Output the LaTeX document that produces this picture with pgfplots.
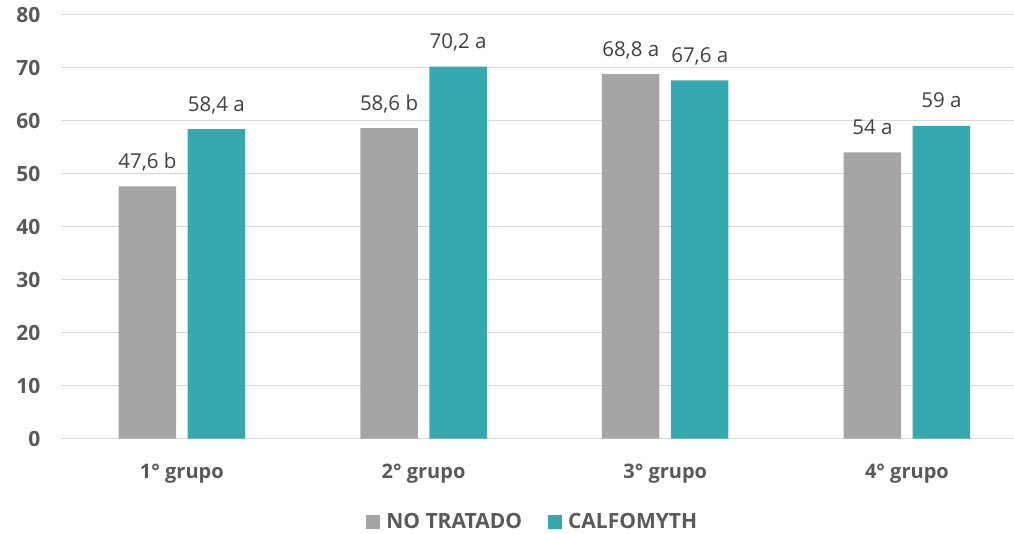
\documentclass[border=0pt]{standalone}
\usepackage{fontspec}
\setmainfont{Open Sans}
\usepackage{pgfplots}
\pgfplotsset{compat=1.18}
\definecolor{barGray}{HTML}{A5A5A5}
\definecolor{barTeal}{HTML}{36A9AE}
\definecolor{gridGray}{HTML}{D9D9D9}
\definecolor{labelGray}{HTML}{595959}
\definecolor{valueGray}{HTML}{404040}
\newcommand{\tickfont}{\fontsize{21}{23}\selectfont\bfseries}
\newcommand{\catfont}{\fontsize{20}{22}\selectfont\bfseries}
\newcommand{\legfont}{\fontsize{21}{23}\selectfont\bfseries}
\newcommand{\valfont}{\fontsize{20.5}{22}\selectfont}

\begin{document}
\begin{tikzpicture}[x=1pt,y=1pt]
\useasboundingbox (0,0) rectangle (1014,533);
\clip (0,0) rectangle (1014,533);
\begin{axis}[
  at={(61pt,94.3pt)}, anchor=south west,
  scale only axis, width=953pt, height=424pt,
  xmin=-0.5, xmax=3.443,
  ymin=0, ymax=80,
  ytick={0,10,...,80},
  xtick={0,1,2,3},
  xticklabels={1° grupo, 2° grupo, 3° grupo, 4° grupo},
  ymajorgrids,
  grid style={gridGray, line width=1.3pt},
  axis line style={draw=none},
  major tick length=0pt,
  tick style={draw=none},
  /pgf/number format/assume math mode=true,
  yticklabel style={font=\tickfont, text=labelGray, anchor=east, xshift=-17pt},
  xticklabel style={font=\catfont, text=labelGray, anchor=base, yshift=-40pt},
  ybar, bar width=57.5pt,
  nodes near coords,
  point meta=explicit symbolic,
  every node near coord/.append style={font=\valfont, text=valueGray, anchor=base, yshift=18pt},
  legend columns=2,
  legend style={at={(0.495,-0.196)}, anchor=center, draw=none, fill=none,
    font=\legfont, text=labelGray, column sep=4pt,
    /tikz/every even column/.append style={column sep=24pt}},
  legend image code/.code={\fill[#1] (0pt,-7pt) rectangle (14pt,7pt);},
]
\addplot[fill=barGray, draw=none, bar shift=-34.5pt]
  coordinates {(0,47.6) [47,6 b] (1,58.6) [58,6 b] (2,68.8) [68,8 a] (3,54.0) [54 a]};
\addplot[fill=barTeal, draw=none, bar shift=34.5pt]
  coordinates {(0,58.4) [58,4 a] (1,70.2) [70,2 a] (2,67.6) [67,6 a] (3,59.0) [59 a]};
\legend{NO TRATADO, CALFOMYTH}
\end{axis}
\end{tikzpicture}
\end{document}
